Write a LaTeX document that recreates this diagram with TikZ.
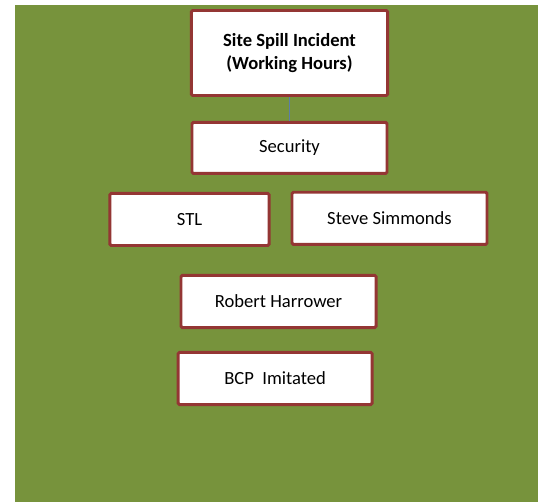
\documentclass[tikz,border=0pt]{standalone}
\usepackage{fontspec}
\setmainfont{Carlito}
\usetikzlibrary{positioning}
\definecolor{bggreen}{HTML}{77933C}
\definecolor{boxred}{HTML}{943634}
\definecolor{linkblue}{HTML}{5B7DA8}

\begin{document}
\begin{tikzpicture}[node distance=0.6cm]
  \tikzstyle{box}=[draw=boxred,fill=white,line width=2.2pt,rounded corners=1pt,align=center,font=\fontsize{14}{17}\selectfont,minimum width=5.16cm,minimum height=1.38cm,inner sep=0pt]
  \useasboundingbox (0,0) rectangle (14.235,-13.309);
  \fill[bggreen] (0.397,-0.132) rectangle (14.235,-13.282);
  \node[box,font=\fontsize{14}{17}\selectfont\bfseries,minimum width=5.19cm,minimum height=2.25cm] (spill) at (7.66,-1.402) {Site Spill Incident\\(Working Hours)};
  \node[box,minimum height=1.35cm,below=0.635cm of spill] (sec) {Security};
  \node[box,minimum width=4.21cm,below=0.45cm of sec,xshift=-2.646cm] (stl) {STL};
  \node[box,right=0.53cm of stl,yshift=0.03cm] (steve) {Steve Simmonds};
  \node[box,below=2.62cm of sec,xshift=-0.29cm] (robert) {Robert Harrower};
  \node[box,minimum width=5.13cm,below=0.58cm of robert,xshift=-0.09cm] (bcp) {BCP\ \ Imitated};
  \draw[linkblue,line width=0.6pt] (spill) -- (sec);
\end{tikzpicture}
\end{document}
